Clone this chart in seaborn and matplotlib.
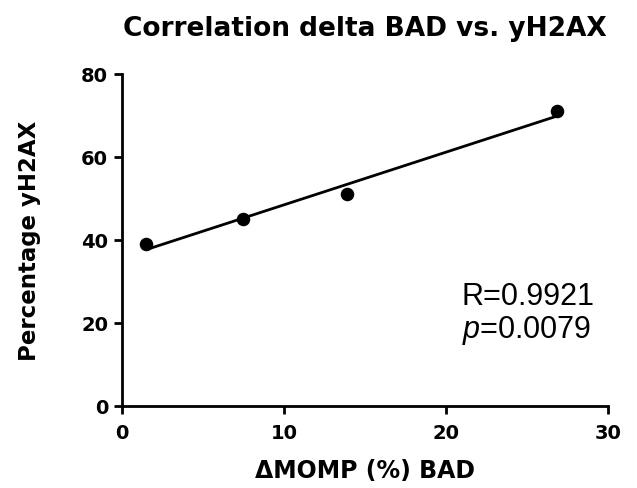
import matplotlib
matplotlib.use("Agg")
import matplotlib.pyplot as plt
import seaborn as sns
import pandas as pd

# values
momp_bad = [1.5, 7.45, 13.9, 26.85]
yh2ax = [39, 45, 51, 71]
x_ticks = [0, 10, 20, 30]
y_ticks = [0, 20, 40, 60, 80]
r_text = "R=0.9921"
p_text = "$p$=0.0079"

sns.set_style("ticks")
plt.rcParams['font.family'] = ['DejaVu Sans']
plt.rcParams['text.color'] = 'black'
plt.rcParams['axes.labelcolor'] = 'black'
plt.rcParams['mathtext.fontset'] = 'custom'
plt.rcParams['mathtext.it'] = 'Liberation Sans:italic'
plt.rcParams['mathtext.rm'] = 'Liberation Sans'

df = pd.DataFrame({'momp': momp_bad, 'yh2ax': yh2ax})

fig = plt.figure(figsize=(6.37, 4.89), dpi=100)
ax = fig.add_axes([0.1915, 0.168, 0.7625, 0.679])

sns.regplot(data=df, x='momp', y='yh2ax', ci=None, ax=ax, color='black',
            scatter_kws={'s': 95, 'alpha': 1, 'linewidths': 0},
            line_kws={'linewidth': 2.0})

ax.set_xlim(0, 30)
ax.set_ylim(0, 80)
ax.set_xticks(x_ticks)
ax.set_yticks(y_ticks)
ax.tick_params(axis='both', direction='out', length=6, width=2.0,
               labelsize=14, colors='black')
ax.tick_params(axis='x', pad=6)
ax.tick_params(axis='y', pad=4)
for lab in ax.get_xticklabels() + ax.get_yticklabels():
    lab.set_fontweight('bold')

sns.despine(ax=ax)
for side in ['left', 'bottom']:
    ax.spines[side].set_linewidth(2.0)
    ax.spines[side].set_color('black')

ax.set_xlabel('\u0394MOMP (%) BAD', fontsize=17, fontweight='bold', labelpad=12)
ax.set_ylabel('Percentage yH2AX', fontsize=16.5, fontweight='bold', labelpad=29)
ax.set_title('Correlation delta BAD vs. yH2AX', fontsize=19,
             fontweight='bold', pad=28)

ax.text(21.0, 26.5, r_text, fontsize=22, family='Liberation Sans', va='center')
ax.text(21.0, 18.3, p_text, fontsize=22, family='Liberation Sans', va='center')

fig.savefig('out.png', dpi=100)
